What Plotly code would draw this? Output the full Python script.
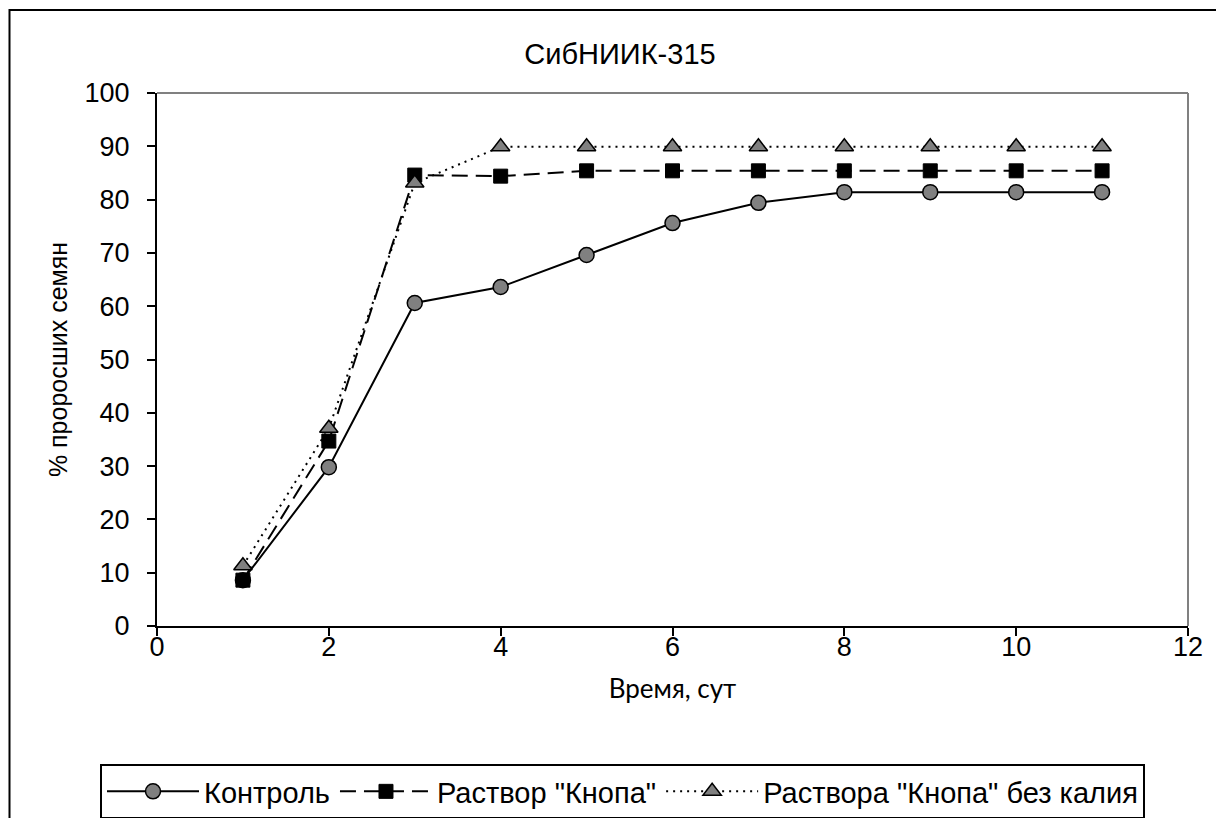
import plotly.graph_objects as go

days = [1, 2, 3, 4, 5, 6, 7, 8, 9, 10, 11]
control = [8.6, 29.8, 60.6, 63.6, 69.6, 75.6, 79.4, 81.4, 81.4, 81.4, 81.4]
knop = [8.6, 34.7, 84.6, 84.4, 85.4, 85.4, 85.4, 85.4, 85.4, 85.4, 85.4]
knop_no_k = [11.3, 37.1, 83.1, 89.9, 89.9, 89.9, 89.9, 89.9, 89.9, 89.9, 89.9]
names = ['Контроль', 'Раствор "Кнопа"', 'Раствора "Кнопа" без калия']

W, H = 1216, 818
L, R, T, B = 157, 28, 93, 192
pw, ph = W - L - R, H - T - B

def px(x):
    return (x - L) / pw

def py(y):
    return (H - B - y) / ph

fig = go.Figure()
fig.add_trace(go.Scatter(
    x=days, y=control, name=names[0], mode="lines+markers",
    line=dict(color="black", width=2, dash="solid"),
    marker=dict(symbol="circle", size=15, color="#808080", line=dict(color="black", width=1.5)),
))
fig.add_trace(go.Scatter(
    x=days, y=knop, name=names[1], mode="lines+markers",
    line=dict(color="black", width=2, dash="16px,8px"),
    marker=dict(symbol="square", size=14, color="black", line=dict(color="black", width=1)),
))
fig.add_trace(go.Scatter(
    x=days, y=knop_no_k, name=names[2], mode="lines+markers",
    line=dict(color="black", width=2, dash="2px,5px"),
    marker=dict(symbol="triangle-up", size=16, color="#808080", line=dict(color="black", width=1.5)),
))

tick_font = dict(family="Liberation Sans, Arial", size=27, color="black")

fig.update_layout(
    width=W, height=H,
    margin=dict(l=L, r=R, t=T, b=B, autoexpand=False),
    paper_bgcolor="white", plot_bgcolor="white",
    title=dict(text="СибНИИК-315", x=620 / W, xanchor="center", xref="container",
               y=1 - 54 / H, yanchor="middle", font=dict(family="Liberation Sans, Arial", size=29, color="black")),
    xaxis=dict(range=[0, 12], dtick=2, tick0=0, showgrid=False, zeroline=False,
               showline=True, linecolor="black", linewidth=2,
               ticks="outside", ticklen=8, tickwidth=2, tickcolor="black",
               tickfont=tick_font, ticklabelstandoff=-12,
               title=dict(text="Время, сут", font=dict(family="Lato, Open Sans", size=26, color="black"), standoff=18)),
    yaxis=dict(range=[0, 100], dtick=10, tick0=0, showgrid=False, zeroline=False,
               showline=True, linecolor="black", linewidth=2,
               ticks="outside", ticklen=8, tickwidth=2, tickcolor="black",
               tickfont=tick_font, ticklabelstandoff=12,
               title=dict(text="% проросших семян", font=dict(family="Liberation Sans, Arial", size=25, color="black"), standoff=10)),
    legend=dict(orientation="h", x=px(100), y=py(764), xanchor="left", yanchor="top",
                bordercolor="black", borderwidth=2, bgcolor="white",
                font=dict(family="Liberation Sans, Arial", size=29, color="black"),
                itemwidth=92, tracegroupgap=0),
    showlegend=True,
)

# grey top and right plot border
fig.add_shape(type="line", xref="paper", yref="paper", x0=0, x1=1, y0=1, y1=1,
              line=dict(color="#808080", width=2))
fig.add_shape(type="line", xref="paper", yref="paper", x0=1, x1=1, y0=0, y1=1,
              line=dict(color="#808080", width=2))
# outer chart frame
fig.add_shape(type="rect", xref="paper", yref="paper",
              x0=px(9.5), x1=px(1240), y0=py(10), y1=py(840),
              line=dict(color="black", width=2), layer="below")

fig.write_html("out.html")
